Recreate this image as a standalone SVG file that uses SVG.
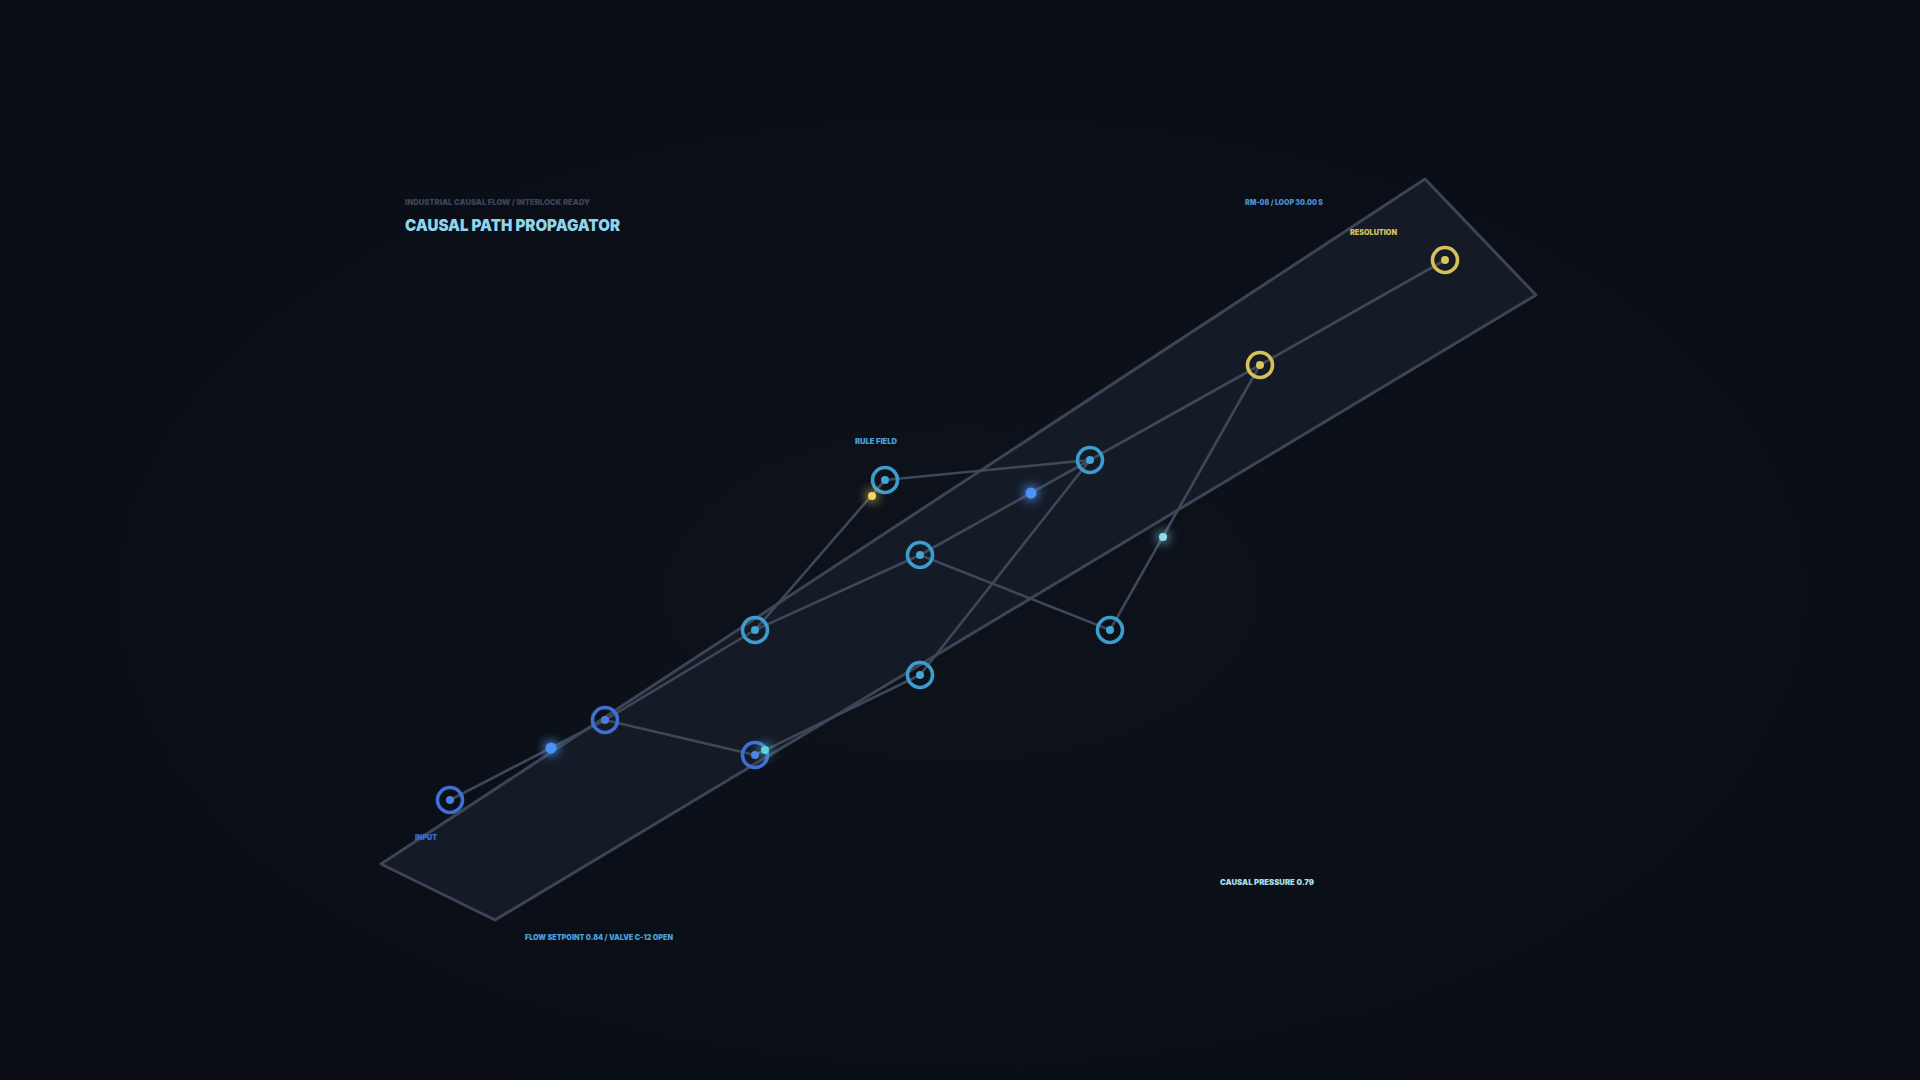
<svg xmlns="http://www.w3.org/2000/svg" width="1920" height="1080" viewBox="0 0 1920 1080">
<style>
.t{font-family:Inter,"Liberation Sans",sans-serif;font-weight:900}
.edge{stroke:#3e4858;stroke-width:2.6;fill:none;stroke-linecap:round}
.ring{fill:none;stroke-width:3.6}
.blue .ring{stroke:#3f6fd4}.blue .dot{fill:#4a7fe0}
.cyan .ring{stroke:#3c9cce}.cyan .dot{fill:#46a4d4}
.gold .ring{stroke:#d6c058}.gold .dot{fill:#dac45e}
</style>
<defs>
<filter id="glow" x="-300%" y="-300%" width="700%" height="700%">
<feGaussianBlur in="SourceGraphic" stdDeviation="6" result="b"/>
<feComponentTransfer in="b" result="b2"><feFuncA type="linear" slope="1.6"/></feComponentTransfer>
<feMerge><feMergeNode in="b2"/><feMergeNode in="SourceGraphic"/></feMerge>
</filter>
<radialGradient id="bgg" cx="50%" cy="55%" r="60%">
<stop offset="0" stop-color="#0d121b"/><stop offset="1" stop-color="#0a0d15"/>
</radialGradient>
</defs>
<rect width="1920" height="1080" fill="url(#bgg)"/>
<polygon id="plane" points="381,864 1425,179 1536,295 495,920" fill="#141b27" stroke="#3b4556" stroke-width="3" stroke-linejoin="round"/>
<g id="connectors">
<line class="edge" x1="450" y1="800" x2="605" y2="720"/>
<line class="edge" x1="605" y1="720" x2="755" y2="630"/>
<line class="edge" x1="605" y1="720" x2="755" y2="755"/>
<line class="edge" x1="755" y1="755" x2="920" y2="675"/>
<line class="edge" x1="755" y1="630" x2="920" y2="555"/>
<line class="edge" x1="755" y1="630" x2="885" y2="480"/>
<line class="edge" x1="885" y1="480" x2="1090" y2="460"/>
<line class="edge" x1="920" y1="555" x2="1090" y2="460"/>
<line class="edge" x1="920" y1="555" x2="1110" y2="630"/>
<line class="edge" x1="1110" y1="630" x2="1260" y2="365"/>
<line class="edge" x1="920" y1="675" x2="1090" y2="460"/>
<line class="edge" x1="1090" y1="460" x2="1260" y2="365"/>
<line class="edge" x1="1260" y1="365" x2="1445" y2="260"/>
</g>
<g id="nodes">
<g id="n-input" class="blue"><circle class="ring" cx="450" cy="800" r="12.5"/><circle class="dot" cx="450" cy="800" r="4"/></g>
<g id="n-2" class="blue"><circle class="ring" cx="605" cy="720" r="12.5"/><circle class="dot" cx="605" cy="720" r="4"/></g>
<g id="n-4" class="blue"><circle class="ring" cx="755" cy="755" r="12.5"/><circle class="dot" cx="755" cy="755" r="4"/></g>
<g id="n-3" class="cyan"><circle class="ring" cx="755" cy="630" r="12.5"/><circle class="dot" cx="755" cy="630" r="4"/></g>
<g id="n-5" class="cyan"><circle class="ring" cx="920" cy="555" r="12.5"/><circle class="dot" cx="920" cy="555" r="4"/></g>
<g id="n-6" class="cyan"><circle class="ring" cx="920" cy="675" r="12.5"/><circle class="dot" cx="920" cy="675" r="4"/></g>
<g id="n-rule" class="cyan"><circle class="ring" cx="885" cy="480" r="12.5"/><circle class="dot" cx="885" cy="480" r="4"/></g>
<g id="n-8" class="cyan"><circle class="ring" cx="1090" cy="460" r="12.5"/><circle class="dot" cx="1090" cy="460" r="4"/></g>
<g id="n-7" class="cyan"><circle class="ring" cx="1110" cy="630" r="12.5"/><circle class="dot" cx="1110" cy="630" r="4"/></g>
<g id="n-y2" class="gold"><circle class="ring" cx="1260" cy="365" r="12.5"/><circle class="dot" cx="1260" cy="365" r="4"/></g>
<g id="n-resolution" class="gold"><circle class="ring" cx="1445" cy="260" r="12.5"/><circle class="dot" cx="1445" cy="260" r="4"/></g>
</g>
<g id="pulses" filter="url(#glow)">
<circle cx="551" cy="748" r="5.5" fill="#5092f5"/>
<circle cx="765" cy="750" r="4" fill="#5fd0e0"/>
<circle cx="872" cy="496" r="4" fill="#f2d460"/>
<circle cx="1031" cy="493" r="5.5" fill="#5092f5"/>
<circle cx="1163" cy="537" r="4" fill="#8fdcea"/>
</g>
<g id="labels">
<text class="t" x="405" y="205" font-size="8" fill="#3a4456" textLength="185" lengthAdjust="spacingAndGlyphs">INDUSTRIAL CAUSAL FLOW / INTERLOCK READY</text>
<text class="t" x="405" y="231" font-size="16" fill="#8fd4ea" textLength="215" lengthAdjust="spacingAndGlyphs">CAUSAL PATH PROPAGATOR</text>
<text class="t" x="1245" y="205" font-size="7.5" fill="#4a8fd0" textLength="78" lengthAdjust="spacingAndGlyphs">RM-08  /  LOOP 30.00 S</text>
<text class="t" x="1350" y="235" font-size="7.5" fill="#d8c158" textLength="47" lengthAdjust="spacingAndGlyphs">RESOLUTION</text>
<text class="t" x="855" y="444" font-size="7.5" fill="#4a9fd2" textLength="42" lengthAdjust="spacingAndGlyphs">RULE FIELD</text>
<text class="t" x="415" y="840" font-size="7.5" fill="#3f6fd8" textLength="22" lengthAdjust="spacingAndGlyphs">INPUT</text>
<text class="t" x="525" y="940" font-size="8" fill="#4a9fd8" textLength="148" lengthAdjust="spacingAndGlyphs">FLOW SETPOINT 0.84 / VALVE C-12 OPEN</text>
<text class="t" x="1220" y="885" font-size="8" fill="#a8dcea" textLength="94" lengthAdjust="spacingAndGlyphs">CAUSAL PRESSURE 0.79</text>
</g>
</svg>
